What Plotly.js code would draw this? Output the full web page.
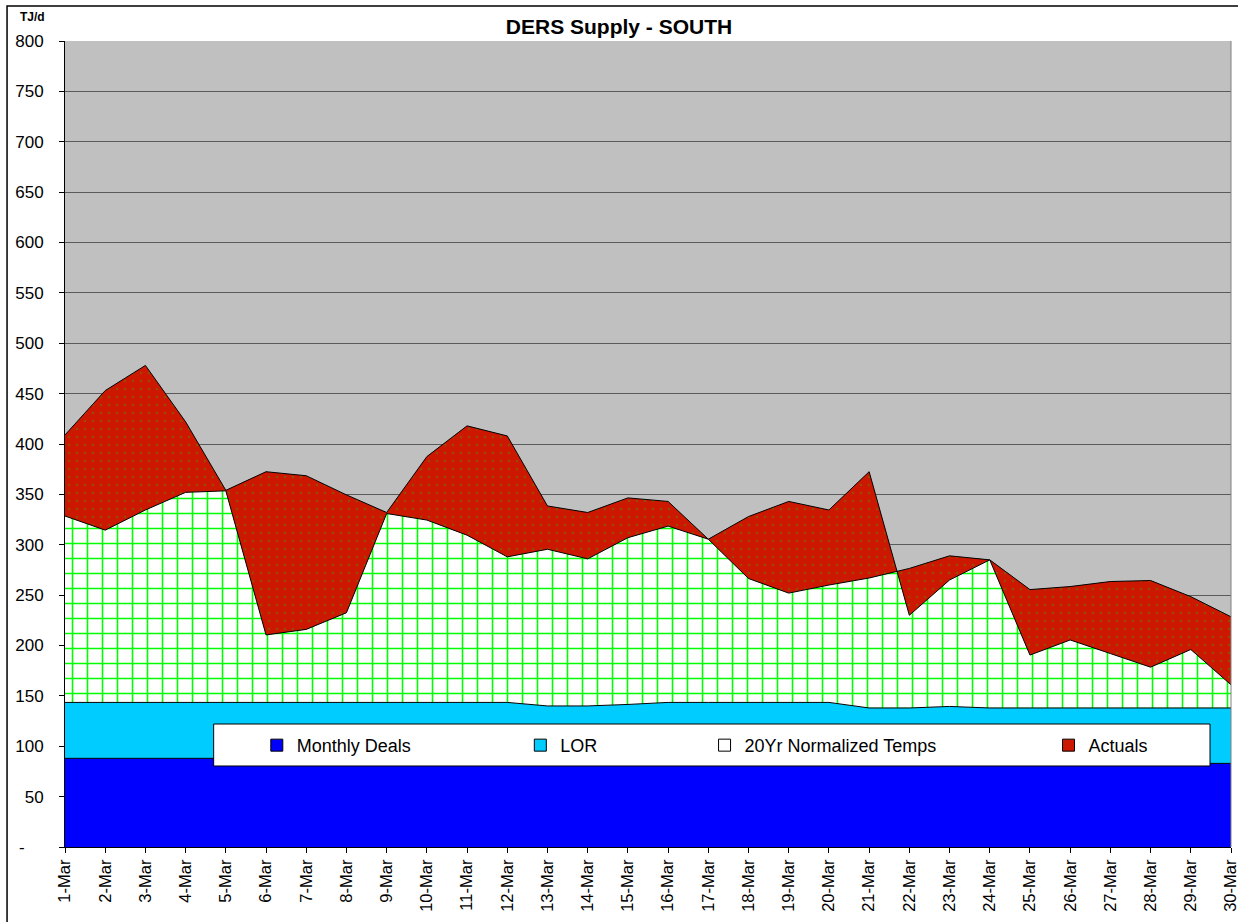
<!DOCTYPE html>
<html>
<head>
<meta charset="utf-8">
<script src="https://cdn.plot.ly/plotly-3.0.1.min.js"></script>
<style>
  html, body { margin: 0; padding: 0; background: #ffffff; overflow: hidden; }
  #chart { width: 1238px; height: 922px; }
</style>
</head>
<body>
<div id="chart"></div>
<script>
// ---- data ----
const days = ['1-Mar','2-Mar','3-Mar','4-Mar','5-Mar','6-Mar','7-Mar','8-Mar','9-Mar','10-Mar',
  '11-Mar','12-Mar','13-Mar','14-Mar','15-Mar','16-Mar','17-Mar','18-Mar','19-Mar','20-Mar',
  '21-Mar','22-Mar','23-Mar','24-Mar','25-Mar','26-Mar','27-Mar','28-Mar','29-Mar','30-Mar'];

const monthlyDeals = [88,88,88,88,88,88,88,88,88,88,88,88,88,88,88,88,88,88,88,88,
  83,83,83,83,83,83,83,83,83,83];

const lor = [55.5,55.5,55.5,55.5,55.5,55.5,55.5,55.5,55.5,55.5,55.5,55.5,52,52,53.5,55.5,55.5,55.5,55.5,55.5,
  55,55,56.5,55,55,55,55,55,55,55];

const normTemps = [185,171,191,208.5,210,67,72.5,89,187.5,181,166,144.5,155.5,146,165.5,175,162,123,108.5,116.5,
  129,138.5,149.5,147,52.5,67.5,54,40.5,58,23];

const actuals = [409,453,478,422,354,372.5,368.5,349.5,332,387.5,418,408,338.5,332,346.5,343,305.5,328,343,334.5,
  372.5,230,265,285,255.5,258.5,263.5,264.5,248.5,228.5];

const yTickVals = [0,50,100,150,200,250,300,350,400,450,500,550,600,650,700,750,800];
const yTickText = ['-\u00a0\u00a0\u00a0\u00a0','50','100','150','200','250','300','350','400','450','500','550','600','650','700','750','800'];

// ---- build ----
const xs = days.map((d, i) => i + 1);
const lorTop = monthlyDeals.map((v, i) => v + lor[i]);
const normTop = lorTop.map((v, i) => v + normTemps[i]);

const FONT = 'Liberation Sans, Arial, Helvetica, sans-serif';
const blackLine = { color: '#000000', width: 1 };

const traces = [
  { x: xs, y: monthlyDeals, mode: 'lines', fill: 'tozeroy', fillcolor: '#0000ff',
    line: blackLine, showlegend: false, hoverinfo: 'skip' },
  { x: xs, y: lorTop, mode: 'lines', fill: 'tonexty', fillcolor: '#00ccff',
    line: blackLine, showlegend: false, hoverinfo: 'skip' },
  { x: xs, y: normTop, mode: 'lines', fill: 'tonexty', fillcolor: '#ffffff',
    fillpattern: { shape: '+', fgcolor: '#00ff00', bgcolor: '#ffffff', size: 15, solidity: 0.2 },
    line: blackLine, showlegend: false, hoverinfo: 'skip' },
  { x: xs, y: actuals, mode: 'lines', fill: 'tonexty', fillcolor: '#cc1800',
    fillpattern: { shape: '.', fgcolor: '#9a4a00', bgcolor: '#cc1800', size: 8, solidity: 0.08 },
    line: blackLine, showlegend: false, hoverinfo: 'skip' },
  // legend entries
  { x: [null], y: [null], mode: 'markers', name: 'Monthly Deals', legend: 'legend',
    marker: { symbol: 'square', size: 12, color: '#0000ff', line: { color: '#000', width: 1 } } },
  { x: [null], y: [null], mode: 'markers', name: 'LOR', legend: 'legend2',
    marker: { symbol: 'square', size: 12, color: '#00ccff', line: { color: '#000', width: 1 } } },
  { x: [null], y: [null], mode: 'markers', name: '20Yr Normalized Temps', legend: 'legend3',
    marker: { symbol: 'square', size: 12, color: '#ffffff', line: { color: '#000', width: 1 } } },
  { x: [null], y: [null], mode: 'markers', name: 'Actuals', legend: 'legend4',
    marker: { symbol: 'square', size: 12, color: '#cc1800', line: { color: '#000', width: 1 } } }
];

function legendAt(x) {
  return { x: x, y: 0.126, xanchor: 'left', yanchor: 'middle', orientation: 'h',
    bgcolor: 'rgba(0,0,0,0)', borderwidth: 0, font: { family: FONT, size: 18, color: '#000' } };
}

const layout = {
  width: 1238, height: 922,
  margin: { l: 65, r: 7, t: 41, b: 75 },
  paper_bgcolor: '#ffffff',
  plot_bgcolor: '#c0c0c0',
  font: { family: FONT, color: '#000000' },
  title: { text: '<b>DERS Supply - SOUTH</b>', font: { family: FONT, size: 21, color: '#000' },
    x: 0.5, xanchor: 'center', y: 0.971, yanchor: 'middle' },
  hovermode: false,
  xaxis: {
    range: [1, 30], tickvals: xs, ticktext: days, tickangle: -90,
    ticks: 'outside', ticklen: 5, tickcolor: '#000', tickwidth: 1,
    showline: true, linecolor: '#000', linewidth: 1, showgrid: false, zeroline: false,
    ticklabeloverflow: 'allow', automargin: false,
    tickfont: { family: FONT, size: 16.5, color: '#000' }
  },
  yaxis: {
    range: [0, 800], tickvals: yTickVals, ticktext: yTickText,
    ticks: 'outside', ticklen: 5, tickcolor: '#000', tickwidth: 1,
    showline: true, linecolor: '#000', linewidth: 1,
    showgrid: true, gridcolor: '#5a5a5a', gridwidth: 1, zeroline: false,
    ticklabelstandoff: 12, automargin: false,
    tickfont: { family: FONT, size: 17, color: '#000' }
  },
  showlegend: true,
  legend: legendAt(0.1645),
  legend2: legendAt(0.3905),
  legend3: legendAt(0.5485),
  legend4: legendAt(0.8435),
  shapes: [
    { type: 'rect', xref: 'paper', yref: 'paper', x0: 0.1275, x1: 0.982, y0: 0.1005, y1: 0.1526,
      fillcolor: '#ffffff', line: { color: '#000000', width: 1 }, layer: 'above' },
    { type: 'line', xref: 'paper', yref: 'paper', x0: 1, x1: 1, y0: 0, y1: 1,
      line: { color: '#808080', width: 1 }, layer: 'above' },
    { type: 'rect', xref: 'paper', yref: 'paper', x0: -0.0497, x1: 1.02, y0: -0.12, y1: 1.0434,
      fillcolor: 'rgba(0,0,0,0)', line: { color: '#000000', width: 1.5 }, layer: 'above' }
  ],
  annotations: [
    { text: '<b>TJ/d</b>', xref: 'paper', yref: 'paper', x: (18 - 65) / 1166, y: (847 - 17) / 806,
      xanchor: 'left', yanchor: 'middle', showarrow: false,
      font: { family: FONT, size: 12, color: '#000' } }
  ]
};

Plotly.newPlot('chart', traces, layout, { displayModeBar: false, staticPlot: true });
</script>
</body>
</html>
